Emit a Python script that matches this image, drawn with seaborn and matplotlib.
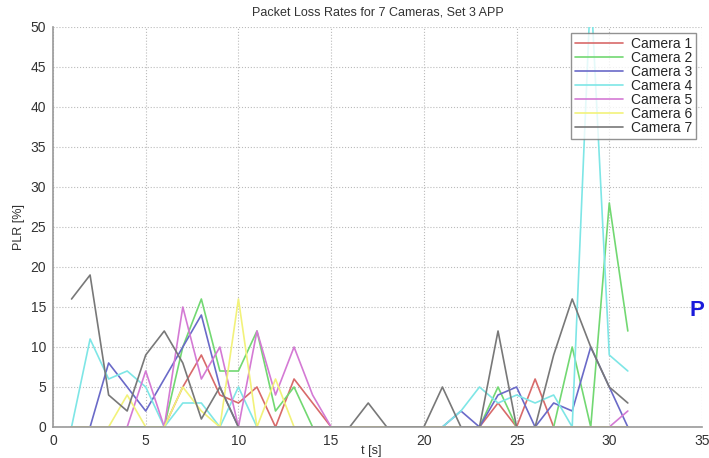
import numpy as np
import pandas as pd
import matplotlib
matplotlib.use("Agg")
import matplotlib.pyplot as plt
import seaborn as sns

t = list(range(1, 32))
cameras = ["Camera 1", "Camera 2", "Camera 3", "Camera 4", "Camera 5", "Camera 6", "Camera 7"]
cam1 = [0, 0, 0, 0, 0, 0, 5, 9, 4, 3, 5, 0, 6, 3, 0, 0, 0, 0, 0, 0, 0, 0, 0, 3, 0, 6, 0, 0, 0, 0, 0]
cam2 = [0, 0, 0, 0, 0, 0, 10, 16, 7, 7, 12, 2, 5, 0, 0, 0, 0, 0, 0, 0, 0, 0, 0, 5, 0, 0, 0, 10, 0, 28, 12]
cam3 = [0, 0, 8, 5, 2, 6, 10, 14, 5, 0, 0, 0, 0, 0, 0, 0, 0, 0, 0, 0, 0, 2, 0, 4, 5, 0, 3, 2, 10, 5, 0]
cam4 = [0, 11, 6, 7, 5, 0, 3, 3, 0, 5, 0, 0, 0, 0, 0, 0, 0, 0, 0, 0, 0, 2, 5, 3, 4, 3, 4, 0, 55, 9, 7]
cam5 = [0, 0, 0, 0, 7, 0, 15, 6, 10, 0, 12, 4, 10, 4, 0, 0, 0, 0, 0, 0, 0, 0, 0, 0, 0, 0, 0, 0, 0, 0, 2]
cam6 = [0, 0, 0, 4, 0, 0, 5, 2, 0, 16, 0, 6, 0, 0, 0, 0, 0, 0, 0, 0, 0, 0, 0, 0, 0, 0, 0, 0, 0, 0, 0]
cam7 = [16, 19, 4, 2, 9, 12, 8, 1, 5, 0, 0, 0, 0, 0, 0, 0, 3, 0, 0, 0, 5, 0, 0, 12, 0, 0, 9, 16, 10, 5, 3]
series = [cam1, cam2, cam3, cam4, cam5, cam6, cam7]
colors = ["#d86a6a", "#72d872", "#6a6ac8", "#7ee6e6", "#d47ad4", "#f2f27a", "#787878"]

rows = []
for name, vals in zip(cameras, series):
    for ti, v in zip(t, vals):
        rows.append({"t": ti, "PLR": v, "Camera": name})
df = pd.DataFrame(rows)

sns.set_style("white")
plt.rcParams["font.family"] = ["Liberation Sans", "DejaVu Sans"]

fig = plt.figure(figsize=(7.09, 4.58), dpi=100)
ax = fig.add_axes([53 / 709, 31 / 458, 649 / 709, 400 / 458])

sns.lineplot(data=df, x="t", y="PLR", hue="Camera", hue_order=cameras,
             palette=colors, linewidth=1.2, ax=ax, estimator=None, sort=False)

ax.set_xlim(0, 35)
ax.set_ylim(0, 50)
ax.set_xticks(range(0, 36, 5))
ax.set_yticks(range(0, 51, 5))
ax.grid(True, linestyle=":", color="#bbbbbb", linewidth=0.8)
ax.set_axisbelow(True)
for s in ["top", "right"]:
    ax.spines[s].set_visible(False)
for s in ["left", "bottom"]:
    ax.spines[s].set_color("#999999")
    ax.spines[s].set_linewidth(1.2)
ax.tick_params(axis="both", direction="out", length=3, color="#999999",
               labelsize=10, labelcolor="#333333", pad=2)
ax.set_xlabel("t [s]", fontsize=9, color="#333333")
ax.xaxis.set_label_coords(0.49, -0.06, transform=ax.transAxes)
ax.xaxis.label.set_va("center")
ax.set_ylabel("PLR [%]", fontsize=9, color="#333333", labelpad=4)
ax.set_title("Packet Loss Rates for 7 Cameras, Set 3 APP", fontsize=9, color="#333333", pad=8)

leg = ax.legend(loc="upper right", fontsize=10, frameon=True, fancybox=False,
                handlelength=3.4, borderpad=0.3, labelspacing=0.0,
                handletextpad=0.6, borderaxespad=0.4)
leg.get_frame().set_edgecolor("#777777")
leg.get_frame().set_linewidth(1.0)
for line in leg.get_lines():
    line.set_linewidth(1.2)

fig.text(697 / 709, 1 - 310 / 458, "P", color="#1a1adb", fontsize=16,
         fontweight="bold", ha="center", va="center")

fig.savefig("out.png", dpi=100)
